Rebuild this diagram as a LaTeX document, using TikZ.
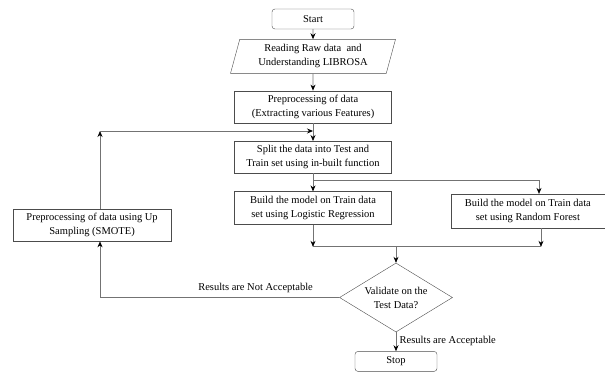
\documentclass[tikz,border=0pt]{standalone}
\usepackage{fontspec}
\setmainfont{Liberation Serif}
\usetikzlibrary{positioning}
\usetikzlibrary{shapes.geometric}
\usetikzlibrary{arrows.meta}

\begin{document}
\begin{tikzpicture}[
      stepbox/.style={draw=black!70,rectangle,minimum width=157pt,minimum height=32pt,align=center,inner sep=2pt},
      endbox/.style={draw=black!70,rectangle,rounded corners=3pt,minimum width=82pt,minimum height=20pt},
      iobox/.style={draw=black!70,trapezium,trapezium left angle=73,trapezium right angle=107,
                    trapezium stretches body,minimum width=165pt,minimum height=34pt,align=center},
      decision/.style={draw=black!70,diamond,aspect=1.64,minimum width=113pt,minimum height=69pt,inner sep=0pt,align=center},
      line/.style={draw=black!55,line width=0.7pt},
      flow/.style={line,-{Stealth[length=6pt,width=5pt,black]}},
      font=\fontsize{10.5}{14}\selectfont]
      \useasboundingbox (0,0) rectangle (605pt,-373pt);
      % Blocks
      \node[endbox]                                    (start)  at (313pt,-19pt) {Start};
      \node[iobox,below=10pt of start]                 (read)   {Reading Raw data\ \ and\\Understanding LIBROSA};
      \node[stepbox,below=17pt of read]                (prep)   {Preprocessing of data\\(Extracting various Features)};
      \node[stepbox,below=18pt of prep]                (split)  {Split the data into Test and\\Train set using in-built function};
      \node[stepbox,below=18pt of split,minimum height=33pt] (logreg) {Build the model on Train data\\set using Logistic Regression};
      \node[stepbox,right=59pt of logreg,yshift=-3pt,minimum width=154pt,minimum height=34pt] (forest) {Build the model on Train data\\set using Random Forest};
      \node[stepbox,left=63pt of logreg,yshift=-17pt,minimum width=158pt] (smote) {Preprocessing of data using Up\\Sampling (SMOTE)};
      \node[decision,below=38pt of logreg,xshift=83pt] (check)  {Validate on the\\Test Data?};
      \node[endbox,below=19pt of check]                (stop)   {Stop};

      % Joints
      \coordinate (fork)  at ([yshift=-7pt]split.south);
      \coordinate (forkr) at (539pt,0 |- fork);
      \coordinate (join)  at ([yshift=-22pt]logreg.south);
      \coordinate (joinr) at (541pt,0 |- join);
      \coordinate (joinm) at (check.north |- join);
      \coordinate (back)  at (100pt,0 |- check.west);
      \coordinate (up)    at (100pt,-131pt);
      \coordinate (loop)  at (split.north |- up);

      % Arrows
      \draw[flow] (start) -- (read);
      \draw[flow] (read) -- (prep);
      \draw[flow] (prep) -- (split);
      \draw[flow] (split) -- (logreg);
      \draw[flow] (fork) -| (forkr) -- (forest.north -| forkr);
      \draw[flow] (logreg) -- (join);
      \draw[flow] (forest.south -| joinr) -- (joinr);
      \draw[line] (join) -- (joinr);
      \draw[flow] (joinm) -- (check);
      \draw[flow] (check.west) -- node[pos=0.35,above,yshift=1pt] {Results are Not Acceptable} (back) -- (smote.south -| back);
      \draw[flow] (smote.north -| up) -- (up);
      \draw[flow] (up) -- (loop);
      \draw[flow] (check) -- node[right,yshift=1pt] {Results are Acceptable} (stop);

    \end{tikzpicture}
\end{document}
